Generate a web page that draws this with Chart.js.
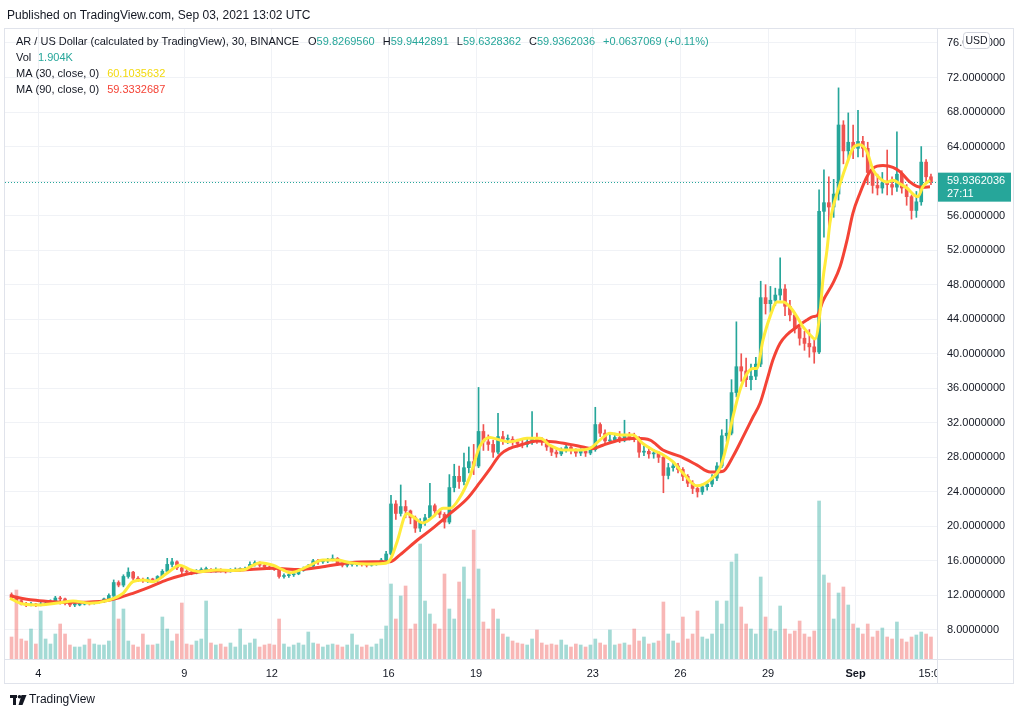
<!DOCTYPE html>
<html>
<head>
<meta charset="utf-8">
<script src="https://cdn.jsdelivr.net/npm/chart.js@4.4.1/dist/chart.umd.min.js"></script>
<style>
html,body{margin:0;padding:0;background:#fff;overflow:hidden}
#wrap{width:1024px;height:718px;position:relative}
canvas{display:block}
</style>
</head>
<body>
<div id="wrap"><canvas id="c" width="1024" height="718"></canvas></div>
<script>
// ---------- DATA ----------
// 4-hour candles starting Aug 3, 00:00 (x unit = day of August; Sep 1 = 32)
const candleStartDay = 3;
const candleSpanDays = 4 / 24;

const opens = [
  12.1,11.8,11.4,11.0,10.9,11.0,  10.9,11.0,11.1,11.3,11.7,11.6,  11.1,10.9,10.9,11.0,11.2,11.1,
  11.2,11.3,11.6,12.0,13.5,13.2,  14.2,14.7,14.0,13.8,13.7,13.9,  13.8,14.2,14.8,15.6,15.9,15.2,
  14.8,14.7,14.6,14.8,15.0,15.0,  14.9,15.0,14.9,14.8,14.9,15.0,  15.0,15.1,15.6,15.8,15.5,15.3,
  15.2,15.0,14.2,14.3,14.4,14.5,  14.9,15.1,15.4,16.0,15.9,16.0,  16.1,16.3,15.7,15.5,15.6,15.6,
  15.7,15.6,15.5,15.6,15.7,16.1,  16.8,22.6,21.5,22.3,21.8,21.0,  19.8,20.5,21.0,22.4,21.8,21.4,
  20.5,24.5,25.8,25.2,26.8,27.5,  27.0,31.0,29.8,29.5,28.6,30.4,  30.1,30.1,29.8,29.6,29.5,29.8,
  30.2,30.0,29.9,29.2,28.6,28.4,  28.8,29.2,28.8,28.5,28.7,28.5,  28.9,31.8,30.8,29.9,30.0,30.3,
  30.0,30.6,30.3,30.1,28.6,28.7,  28.4,28.5,28.0,25.9,26.8,27.0,  26.6,25.8,25.0,24.4,24.0,24.6,
  24.9,25.6,27.0,30.5,30.8,35.5,  38.5,38.0,37.0,37.4,38.8,46.5,  45.8,46.2,46.8,47.5,45.5,44.5,
  43.0,41.8,41.2,40.8,40.2,56.5,  57.5,57.0,58.5,66.5,63.5,64.5,  63.8,64.6,63.8,61.0,59.5,59.2,
  59.8,59.6,59.3,60.8,59.2,58.2,  56.6,57.6,62.2,60.5
];
const highs = [
  12.3,11.9,11.5,11.2,11.2,11.1,  11.2,11.3,11.5,11.9,11.9,11.7,  11.2,11.1,11.1,11.3,11.3,11.3,
  11.4,11.7,12.2,13.8,13.7,14.4,  15.2,14.8,14.2,14.0,14.1,14.0,  14.3,15.0,16.3,16.3,16.0,15.3,
  15.0,14.9,15.0,15.2,15.3,15.1,  15.2,15.1,15.0,15.1,15.2,15.2,  15.3,15.9,16.0,15.9,15.6,15.4,
  15.3,15.1,14.5,14.6,14.7,15.1,  15.3,15.6,16.2,16.2,16.2,16.3,  16.7,16.4,15.8,15.8,15.8,15.9,
  15.8,15.7,15.8,15.9,16.3,17.1,  23.6,23.0,24.8,23.0,21.9,21.2,  20.9,21.4,25.0,22.6,22.0,21.6,
  26.0,27.2,27.0,28.5,29.2,29.5,  36.1,31.8,30.6,30.0,33.1,31.0,  30.6,30.4,30.1,30.0,30.2,33.3,
  30.8,30.3,30.1,29.4,28.9,29.1,  29.6,29.4,29.0,29.0,28.9,29.2,  33.8,32.0,31.2,30.9,30.8,31.0,
  32.3,30.9,30.8,30.4,29.3,29.2,  28.9,28.7,28.2,27.3,27.4,27.3,  26.8,26.0,25.3,24.6,24.9,25.2,
  26.0,27.4,31.2,32.4,37.0,43.7,  40.0,39.5,38.8,39.6,48.4,48.0,  47.8,47.6,51.1,48.0,46.2,44.8,
  43.4,42.6,42.8,41.6,59.0,61.3,  60.5,60.2,70.8,67.0,67.9,66.5,  68.2,65.2,64.5,61.5,60.8,61.0,
  63.6,60.5,65.7,61.2,59.6,58.4,  58.8,64.0,62.5,60.8
];
const lows = [
  11.6,11.2,10.9,10.7,10.8,10.7,  10.8,10.9,11.0,11.2,11.0,10.9,  10.7,10.7,10.8,10.9,10.9,11.0,
  11.1,11.2,11.5,11.9,13.0,13.0,  14.0,13.8,13.6,13.5,13.5,13.6,  13.6,14.1,14.6,15.3,15.0,14.5,
  14.5,14.4,14.5,14.7,14.8,14.7,  14.7,14.7,14.6,14.7,14.8,14.8,  14.9,15.0,15.4,15.3,15.1,15.0,
  14.9,14.0,14.0,14.1,14.2,14.4,  14.8,15.0,15.3,15.6,15.7,15.8,  16.0,15.5,15.3,15.3,15.4,15.4,
  15.4,15.3,15.4,15.5,15.6,16.0,  16.7,20.8,21.2,21.0,20.3,19.3,  19.4,20.1,20.8,21.2,21.0,19.8,
  20.3,24.0,24.4,24.8,26.2,26.0,  26.8,28.8,28.8,28.0,28.4,29.5,  29.6,29.4,29.2,29.1,29.2,29.5,
  29.6,29.4,28.8,28.2,28.0,28.2,  28.6,28.4,28.1,28.2,28.1,28.3,  28.7,30.4,29.5,29.6,29.8,29.7,
  29.8,30.0,29.8,28.0,28.2,27.9,  27.9,27.4,23.9,25.5,26.4,26.2,  25.3,24.6,23.8,23.4,23.7,24.2,
  24.6,25.3,26.8,29.8,30.6,35.0,  36.8,36.2,35.8,37.0,38.5,44.6,  44.8,45.6,46.2,44.4,43.8,42.4,
  41.0,40.4,39.6,38.9,40.0,53.5,  54.5,55.8,57.8,62.0,62.4,62.6,  62.8,62.8,59.6,58.6,58.4,58.6,
  58.4,58.4,58.8,58.6,57.2,55.6,  55.8,57.2,59.8,59.6
];
const closes = [
  11.8,11.4,11.0,10.9,11.0,10.9,  11.0,11.1,11.3,11.7,11.6,11.1,  10.9,10.9,11.0,11.2,11.1,11.2,
  11.3,11.6,12.0,13.5,13.2,14.2,  14.7,14.0,13.8,13.7,13.9,13.8,  14.2,14.8,15.6,15.9,15.2,14.8,
  14.7,14.6,14.8,15.0,15.0,14.9,  15.0,14.9,14.8,14.9,15.0,15.0,  15.1,15.6,15.8,15.5,15.3,15.2,
  15.0,14.2,14.3,14.4,14.5,14.9,  15.1,15.4,16.0,15.9,16.0,16.1,  16.3,15.7,15.5,15.6,15.6,15.7,
  15.6,15.5,15.6,15.7,16.1,16.8,  22.6,21.5,22.3,21.8,21.0,19.8,  20.5,21.0,22.4,21.8,21.4,20.5,
  24.5,25.8,25.2,26.8,27.5,27.0,  31.0,29.8,29.5,28.6,30.4,30.1,  30.1,29.8,29.6,29.5,29.8,30.2,
  30.0,29.9,29.2,28.6,28.4,28.8,  29.2,28.8,28.5,28.7,28.5,28.9,  31.8,30.8,29.9,30.0,30.3,30.0,
  30.6,30.3,30.1,28.6,28.7,28.4,  28.5,28.0,25.9,26.8,27.0,26.6,  25.8,25.0,24.4,24.0,24.6,24.9,
  25.6,27.0,30.5,30.8,35.5,38.5,  38.0,37.0,37.4,38.8,46.5,45.8,  46.2,46.8,47.5,45.5,44.5,43.0,
  41.8,41.2,40.8,40.2,56.5,57.5,  57.0,58.5,66.5,63.5,64.5,63.8,  64.6,63.8,61.0,59.5,59.2,59.8,
  59.6,59.3,60.8,59.2,58.2,56.6,  57.6,62.2,60.5,59.9362036
];
// volume, relative units (peak bar of each 4h span)
const volumes = [
  22,69,20,18,30,15,  48,20,15,25,35,25,  14,12,12,14,20,15,  14,14,18,65,40,50,  18,14,12,25,14,14,
  15,42,30,18,25,56,  15,14,18,20,58,16,  14,15,12,16,12,30,  14,16,20,12,14,15,  14,40,15,12,14,16,
  14,27,16,15,12,14,  15,14,12,14,25,14,  12,14,12,15,20,33,  75,40,63,73,30,35,  115,58,45,35,30,85,
  50,40,77,92,60,129, 90,37,30,50,40,25,  22,18,16,15,14,20,  29,16,14,15,14,19,  14,12,15,14,12,14,
  20,16,14,29,14,15,  16,14,30,18,22,15,  16,18,57,25,18,16,  42,20,25,48,22,20,  25,58,35,58,97,105,
  52,35,30,25,82,42,  30,28,53,30,25,28,  38,25,22,28,158,84, 76,40,66,72,54,35,  31,25,35,22,28,31,
  22,20,37,20,17,22,  24,27,25,22
];

// Moving averages (day of August, value)
const ma30Days = [3.03,3.48,4.06,4.74,5.19,5.77,6.35,6.90,7.24,7.59,7.93,8.41,8.85,9.20,9.54,10.12,10.67,11.08,11.25,11.60,
  12.04,12.39,12.62,12.96,13.31,13.75,14.23,14.68,15.26,15.81,16.05,16.29,16.63,16.84,17.18,17.52,17.87,18.11,18.45,18.79,
  19.13,19.48,19.82,20.16,20.74,21.19,21.53,21.98,22.46,22.90,23.24,23.58,23.93,24.37,24.71,25.06,25.40,25.74,26.08,26.56,
  27.02,27.36,27.60,27.80,28.04,28.28,28.49,28.62,28.83,29.07,29.31,29.52,29.76,29.99,30.20,30.44,30.61,30.78,30.88,31.02,
  31.12,31.23,31.47,31.71,31.91,32.15,32.39,32.60,32.84,33.08,33.28,33.52,33.76,34.00,34.14,34.31,34.55];
const ma30Values = [11.67,11.0,10.9,11.16,11.36,11.1,11.4,12.25,13.6,13.8,13.6,14.57,15.5,15.0,14.76,14.95,14.9,15.0,15.3,15.8,
  15.5,14.95,14.64,14.95,15.5,16.1,16.1,15.8,15.65,15.7,16.1,18.2,21.5,21.1,20.4,21.1,22.1,22.1,23.4,25.8,
  29.3,30.3,30.0,29.8,30.2,30.2,29.4,28.85,28.85,29.05,30.0,30.8,30.6,30.6,29.6,28.85,28.3,27.5,26.2,24.7,
  25.4,26.8,29.6,32.7,35.8,37.7,38.3,38.3,41.6,44.3,46.0,46.0,45.4,44.3,43.1,42.2,41.7,44.7,48.5,52.0,
  55.1,57.0,59.7,62.1,63.8,64.2,63.4,61.3,60.3,59.9,60.1,59.7,59.2,58.4,58.2,59.4,60.1035632];
const ma90Days = [3.03,3.82,4.40,4.98,6.11,6.70,7.24,7.83,8.41,8.96,9.54,10.67,11.25,12.04,12.96,13.75,14.68,15.47,16.05,16.39,
  16.98,17.52,18.11,18.69,19.13,19.48,19.82,20.16,20.50,21.08,21.63,22.21,22.66,23.00,23.34,23.93,24.51,24.96,25.40,25.99,
  26.57,27.02,27.46,27.80,28.15,28.49,28.73,28.97,29.17,29.41,29.65,29.99,30.33,30.54,30.68,30.88,31.23,31.47,31.71,31.91,
  32.15,32.39,32.60,32.94,33.28,33.52,33.86,34.10,34.31,34.55];
const ma90Values = [11.94,11.47,11.3,11.2,11.3,11.67,12.25,13.0,13.8,14.37,14.76,14.9,15.0,15.15,15.0,15.33,15.8,15.9,15.9,16.7,
  18.4,19.8,21.5,23.2,25.1,26.7,28.3,29.05,29.4,29.9,29.8,29.5,29.2,29.0,29.4,30.0,30.2,30.0,28.85,28.1,
  27.1,26.3,26.4,28.1,30.4,32.7,34.3,37.0,39.3,41.2,42.2,43.1,43.9,44.3,44.4,46.1,48.2,50.1,53.2,56.3,
  58.6,60.5,61.5,61.8,61.6,61.1,59.9,59.4,59.3,59.3332687];

const xTickDays = [4, 9, 12, 16, 19, 23, 26, 29, 32, 34.625];
const xTickLabels = ['4', '9', '12', '16', '19', '23', '26', '29', 'Sep', '15:00'];
const yTickValues = [8,12,16,20,24,28,32,36,40,44,48,52,56,60,64,68,72,76];

const lastPrice = 59.9362036;
const legendTitle = 'AR / US Dollar (calculated by TradingView), 30, BINANCE';
const legendOHLC = [['O','59.8269560'],['H','59.9442891'],['L','59.6328362'],['C','59.9362036']];
const legendChange = '+0.0637069 (+0.11%)';
const legendVol = '1.904K';
const ma30Label = 'MA (30, close, 0)', ma30Last = '60.1035632';
const ma90Label = 'MA (90, close, 0)', ma90Last = '59.3332687';
const publishedText = 'Published on TradingView.com, Sep 03, 2021 13:02 UTC';
const countdownText = '27:11';

// ---------- BUILD ----------
const UP = '#26a69a', DOWN = '#ef5350';
const UPV = 'rgba(38,166,154,0.42)', DOWNV = 'rgba(239,83,80,0.42)';
const FONT = "'Liberation Sans', Arial, sans-serif";
const TXT = '#131722';

const candleX = opens.map((_, i) => candleStartDay + (i + 0.5) * candleSpanDays);
const isUp = opens.map((o, i) => closes[i] >= o);
const wickData = candleX.map((x, i) => ({ x, y: [lows[i], highs[i]] }));
const bodyData = candleX.map((x, i) => ({ x, y: [opens[i], closes[i]] }));
const volData = candleX.map((x, i) => ({ x, y: volumes[i] }));
const candleColors = isUp.map(u => u ? UP : DOWN);
const volColors = isUp.map(u => u ? UPV : DOWNV);
const ma30Data = ma30Days.map((d, i) => ({ x: d, y: ma30Values[i] }));
const ma90Data = ma90Days.map((d, i) => ({ x: d, y: ma90Values[i] }));

const overlay = {
  id: 'overlay',
  beforeDatasetsDraw(chart) {
    const { ctx, chartArea: a, scales } = chart;
    const py = Math.round(scales.y.getPixelForValue(lastPrice)) + 0.5;
    ctx.save();
    ctx.strokeStyle = UP;
    ctx.lineWidth = 1;
    ctx.setLineDash([1, 2]);
    ctx.beginPath(); ctx.moveTo(a.left, py); ctx.lineTo(a.right, py); ctx.stroke();
    ctx.restore();
  },
  afterDraw(chart) {
    const { ctx, chartArea: a, scales } = chart;
    ctx.save();
    // cover the clipped part of the last time label
    ctx.fillStyle = '#fff';
    ctx.fillRect(a.right + 1, a.bottom + 1, 80, 24);
    // frame
    ctx.strokeStyle = '#e0e3eb';
    ctx.lineWidth = 1;
    ctx.strokeRect(4.5, 28.5, 1009, 655);
    ctx.beginPath();
    ctx.moveTo(a.right + 0.5, 29); ctx.lineTo(a.right + 0.5, 684);
    ctx.moveTo(5, a.bottom + 0.5); ctx.lineTo(1013, a.bottom + 0.5);
    ctx.stroke();

    // last price label
    const py = scales.y.getPixelForValue(lastPrice);
    ctx.fillStyle = UP;
    ctx.fillRect(a.right + 1, py - 9, 73, 29);
    ctx.fillStyle = '#fff';
    ctx.font = '11px ' + FONT;
    ctx.textBaseline = 'middle';
    ctx.textAlign = 'left';
    ctx.fillText(lastPrice.toFixed(7), a.right + 10, py - 1);
    ctx.fillText(countdownText, a.right + 10, py + 12);

    // USD badge
    ctx.beginPath();
    if (ctx.roundRect) ctx.roundRect(963.5, 32.5, 26, 16, 3); else ctx.rect(963.5, 32.5, 26, 16);
    ctx.fillStyle = '#fff'; ctx.fill();
    ctx.strokeStyle = '#d1d4dc'; ctx.stroke();
    ctx.fillStyle = TXT; ctx.textAlign = 'center';
    ctx.font = '10.5px ' + FONT;
    ctx.fillText('USD', 976.5, 41);

    // header texts
    ctx.textAlign = 'left';
    ctx.font = '12px ' + FONT;
    ctx.fillStyle = TXT;
    ctx.fillText(publishedText, 7, 16);

    ctx.font = '11px ' + FONT;
    let x = 16;
    ctx.fillStyle = TXT; ctx.fillText(legendTitle, x, 42);
    x += ctx.measureText(legendTitle).width + 9;
    legendOHLC.forEach(([k, v]) => {
      ctx.fillStyle = TXT; ctx.fillText(k, x, 42); x += ctx.measureText(k).width;
      ctx.fillStyle = UP; ctx.fillText(v, x, 42); x += ctx.measureText(v).width + 8;
    });
    ctx.fillStyle = UP; ctx.fillText(legendChange, x, 42);

    ctx.fillStyle = TXT; ctx.fillText('Vol', 16, 58);
    ctx.fillStyle = UP; ctx.fillText(legendVol, 38, 58);
    ctx.fillStyle = TXT; ctx.fillText(ma30Label, 16, 74);
    ctx.fillStyle = '#f2d90f'; ctx.fillText(ma30Last, 16 + ctx.measureText(ma30Label).width + 8, 74);
    ctx.fillStyle = TXT; ctx.fillText(ma90Label, 16, 90);
    ctx.fillStyle = '#f44336'; ctx.fillText(ma90Last, 16 + ctx.measureText(ma90Label).width + 8, 90);

    // footer logo
    ctx.fillStyle = '#131722';
    ctx.fillRect(10, 695, 7, 3);
    ctx.fillRect(13, 695, 3, 10);
    ctx.beginPath(); ctx.arc(19.5, 696.8, 1.8, 0, Math.PI * 2); ctx.fill();
    ctx.beginPath(); ctx.moveTo(21.5, 695); ctx.lineTo(26.5, 695); ctx.lineTo(22.5, 705); ctx.lineTo(18.5, 705); ctx.closePath(); ctx.fill();
    ctx.font = '12px ' + FONT;
    ctx.fillText('TradingView', 29, 700);
    ctx.restore();
  }
};

const xMin = 2.859, xMax = 34.79;

new Chart(document.getElementById('c'), {
  type: 'bar',
  data: {
    datasets: [
      { type: 'line', label: 'MA 30', data: ma30Data, yAxisID: 'y', borderColor: '#ffeb3b', borderWidth: 3,
        pointRadius: 0, cubicInterpolationMode: 'monotone', order: 0 },
      { type: 'line', label: 'MA 90', data: ma90Data, yAxisID: 'y', borderColor: '#f44336', borderWidth: 3,
        pointRadius: 0, cubicInterpolationMode: 'monotone', order: 1 },
      { label: 'bodies', data: bodyData, yAxisID: 'y', backgroundColor: candleColors, barThickness: 3,
        minBarLength: 1, grouped: false, borderWidth: 0, order: 2 },
      { label: 'wicks', data: wickData, yAxisID: 'y', backgroundColor: candleColors, barThickness: 1,
        grouped: false, borderWidth: 0, order: 3 },
      { label: 'volume', data: volData, yAxisID: 'yv', backgroundColor: volColors, barThickness: 3,
        grouped: false, borderWidth: 0, order: 4 }
    ]
  },
  options: {
    responsive: false,
    animation: false,
    devicePixelRatio: 1,
    layout: { padding: { left: 5, top: 29, right: 10, bottom: 34 } },
    plugins: { legend: { display: false }, tooltip: { enabled: false } },
    scales: {
      x: {
        type: 'linear', min: xMin, max: xMax, offset: false,
        grid: { offset: false, drawTicks: false,
          color: c => (c.tick && c.tick.value === 34.625) ? 'rgba(0,0,0,0)' : '#f0f2f6' },
        border: { display: false },
        afterBuildTicks: s => { s.ticks = xTickDays.map(v => ({ value: v })); },
        afterFit: s => { s.height = 25; },
        ticks: {
          autoSkip: false, maxRotation: 0, padding: 8, color: TXT,
          font: c => ({ family: FONT, size: 11, weight: (c.tick && c.tick.value === 32) ? 'bold' : 'normal' }),
          callback: (v, i) => xTickLabels[i]
        }
      },
      y: {
        type: 'linear', position: 'right', min: 4.64, max: 77.62,
        grid: { color: '#f0f2f6', drawTicks: false },
        border: { display: false },
        afterBuildTicks: s => { s.ticks = yTickValues.map(v => ({ value: v })); },
        afterFit: s => { s.width = 77; },
        ticks: { padding: 10, color: TXT, font: { family: FONT, size: 11 }, callback: v => Number(v).toFixed(7) }
      },
      yv: { type: 'linear', display: false, min: 0, max: 630 }
    }
  },
  plugins: [overlay]
});
</script>
</body>
</html>
